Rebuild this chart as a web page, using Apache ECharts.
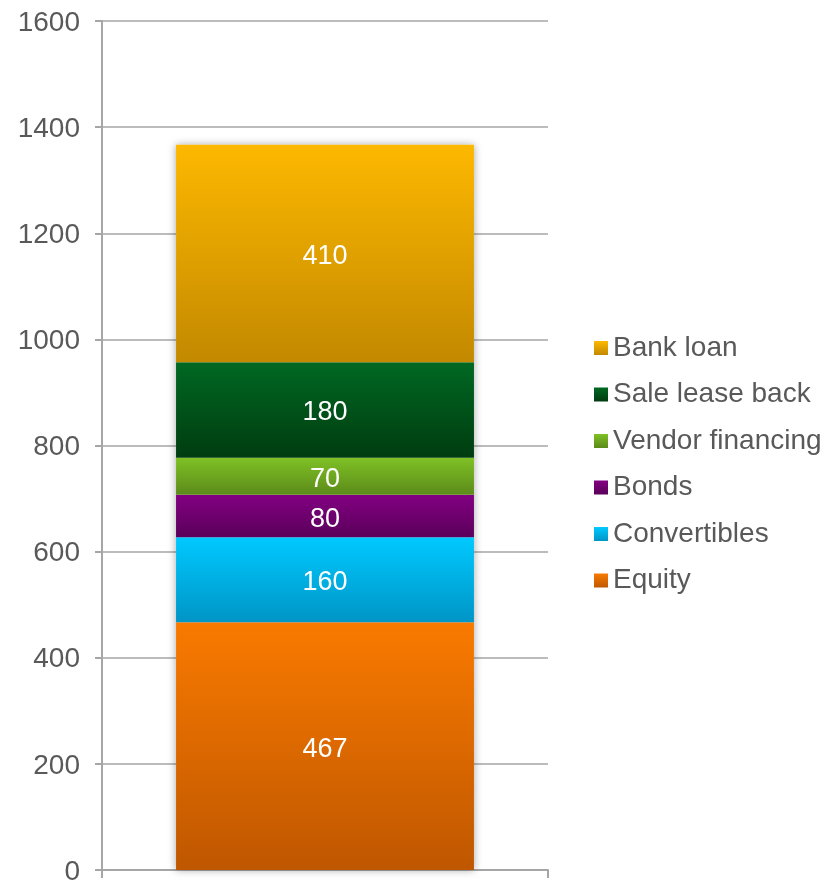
<!DOCTYPE html>
<html>
<head>
<meta charset="utf-8">
<script src="https://cdn.jsdelivr.net/npm/echarts@6/dist/echarts.min.js"></script>
<style>
  html, body { margin: 0; padding: 0; background: #ffffff; }
  #chart { width: 834px; height: 882px; }
</style>
</head>
<body>
<div id="chart"></div>
<script>
// Funding structure, stacked from the bottom up
const categories = ['Funding'];
const seriesNames = ['Equity', 'Convertibles', 'Bonds', 'Vendor financing', 'Sale lease back', 'Bank loan'];
const equity = [467];
const convertibles = [160];
const bonds = [80];
const vendorFinancing = [70];
const saleLeaseBack = [180];
const bankLoan = [410];
const yTicks = [0, 200, 400, 600, 800, 1000, 1200, 1400, 1600];

const seriesValues = [equity, convertibles, bonds, vendorFinancing, saleLeaseBack, bankLoan];
// top / bottom shades of each segment
const shades = [
  ['#F97A00', '#BF5700'],
  ['#00C9FF', '#0095C6'],
  ['#820082', '#5A005A'],
  ['#7FC125', '#5C8A1A'],
  ['#006822', '#003C10'],
  ['#FDB800', '#C38900']
];

const FONT = '"Liberation Sans", Arial, sans-serif';
const chart = echarts.init(document.getElementById('chart'), null, { renderer: 'canvas' });

function grad(c) {
  return new echarts.graphic.LinearGradient(0, 0, 0, 1, [
    { offset: 0, color: c[0] },
    { offset: 1, color: c[1] }
  ]);
}

const totals = categories.map((_, i) => seriesValues.reduce((s, arr) => s + arr[i], 0));

const series = [{
  name: '_shadow',
  type: 'bar',
  data: totals,
  barWidth: '66.8%',
  barGap: '-100%',
  silent: true,
  z: 1,
  itemStyle: {
    color: '#ffffff',
    shadowBlur: 8,
    shadowColor: 'rgba(0,0,0,0.35)'
  },
  label: { show: false }
}];

seriesNames.forEach((name, k) => {
  series.push({
    name: name,
    type: 'bar',
    stack: 'funding',
    data: seriesValues[k],
    barWidth: '66.8%',
    z: 2,
    itemStyle: { color: grad(shades[k]) },
    label: {
      show: true,
      position: 'inside',
      offset: [0, 3],
      color: '#ffffff',
      fontFamily: FONT,
      fontSize: 27
    }
  });
});

chart.setOption({
  animation: false,
  backgroundColor: '#ffffff',
  grid: { left: 102, right: 286, top: 21, bottom: 12, containLabel: false, outerBoundsMode: 'none' },
  legend: {
    data: seriesNames.slice().reverse(),
    orient: 'vertical',
    left: 589,
    top: 329,
    itemWidth: 14,
    itemHeight: 14,
    itemGap: 18.5,
    icon: 'rect',
    textStyle: { fontFamily: FONT, fontSize: 28, color: '#595959' }
  },
  xAxis: {
    type: 'category',
    data: categories,
    axisLine: { show: true, lineStyle: { color: '#a6a6a6', width: 2 } },
    axisTick: { show: true, length: 8, alignWithLabel: false, lineStyle: { color: '#a6a6a6', width: 2 } },
    axisLabel: { show: false },
    splitLine: { show: false }
  },
  yAxis: {
    type: 'value',
    min: yTicks[0],
    max: yTicks[yTicks.length - 1],
    interval: yTicks[1] - yTicks[0],
    axisLine: { show: true, lineStyle: { color: '#a6a6a6', width: 2 } },
    axisTick: { show: true, length: 7, inside: false, lineStyle: { color: '#a6a6a6', width: 2 } },
    axisLabel: {
      color: '#595959',
      fontFamily: FONT,
      fontSize: 28,
      margin: 22,
      formatter: v => '{t|' + v + '}',
      rich: {
        t: { fontFamily: FONT, fontSize: 28, color: '#595959', padding: [4, 0, 0, 0] }
      }
    },
    splitLine: { show: true, lineStyle: { color: '#a6a6a6', width: 1.5 } }
  },
  series: series
});
</script>
</body>
</html>
